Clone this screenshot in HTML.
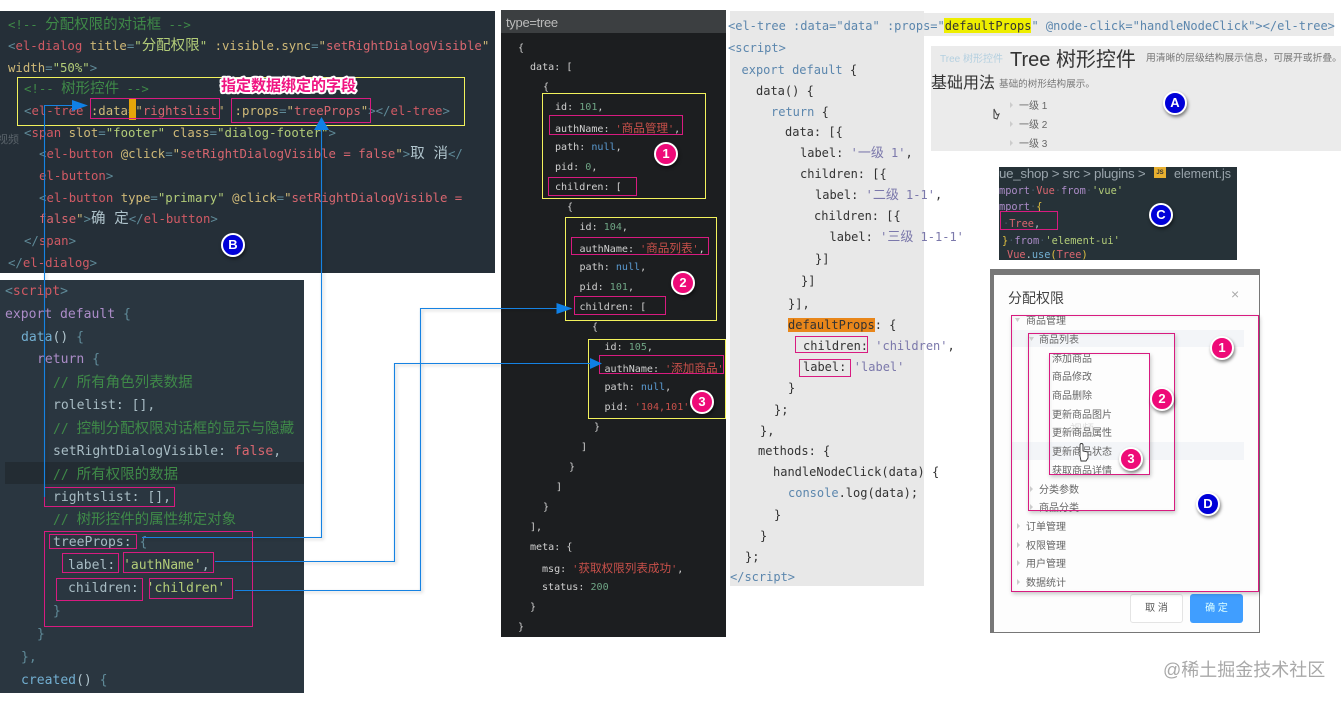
<!DOCTYPE html>
<html><head><meta charset="utf-8">
<style>
html,body{margin:0;padding:0;background:#fff}
#r{position:relative;width:1344px;height:701px;overflow:hidden;background:#fff;font-family:"DejaVu Sans Mono","Noto Sans CJK SC",monospace}
.p{position:absolute}
.l{position:absolute;line-height:20px;margin-top:-10px;white-space:pre}
.B .l{font-size:12.34px;color:#8fa8b0;margin-top:-9.5px}.B u{font-size:14.5px}
.S .l{font-size:13.07px;color:#a8bcc4;margin-top:-8px}.S u{font-size:14.5px}
.M .l{font-size:10.07px;color:#d0d0d0;margin-top:-8.5px}.M u{font-size:11.6px}
.R .l{font-size:12px;color:#333}.R u{font-size:13px}
.C .l{font-size:10.3px;color:#9ab;margin-top:-8px}
u{text-decoration:none}
.t{color:#d05a64}.a{color:#d0ba78}.s{color:#d8666f}.g{color:#b2cc78}.c{color:#3f8a48}.k{color:#ac8cc8}.b{color:#72aed0}.w{color:#b0c4cc}.n{color:#5f8a98}
.mg{color:#6fa585}.mb{color:#5a9ad0}.mr{color:#c8504a}
.ro{color:#7b78ab}.rb{color:#5b86ad}
.txt{position:absolute;white-space:pre;font-family:"Liberation Sans","Noto Sans CJK SC",sans-serif;line-height:20px;margin-top:-10px}
.bd{position:absolute;width:20px;height:20px;margin:-12px 0 0 -12px;border:2px solid #fff;border-radius:50%;color:#fff;font:bold 13px/20px "Liberation Sans",sans-serif;text-align:center;box-shadow:1px 2px 3px rgba(0,0,0,.5)}
.pk{background:#ee0a78}.bl{background:#0000d8}
.d{font-size:10px;color:#666;margin-top:-8.5px}
.bx{position:absolute;box-sizing:border-box;border:1px solid #d81b80;box-shadow:1px 2px 4px rgba(0,0,0,.22),inset 1px 1px 3px rgba(0,0,0,.05)}
</style></head><body>
<div id="r">

<!-- panel B -->
<div class="p" style="left:0;top:11px;width:495px;height:262px;background:#252f38"></div>
<div class="p B" style="left:0;top:0;width:495px;height:273px">
<div class="l" style="left:8px;top:24px"><span class="c">&lt;!-- <u>分配权限的对话框</u> --&gt;</span></div>
<div class="l" style="left:8px;top:45px"><span class="n">&lt;</span><span class="t">el-dialog</span> <span class="a">title</span><span class="n">=</span><span class="g">"<u>分配权限</u>"</span> <span class="a">:visible.sync</span><span class="n">=</span><span class="a">"</span><span class="s">setRightDialogVisible</span><span class="a">"</span></div>
<div class="l" style="left:8px;top:67px"><span class="a">width</span><span class="n">=</span><span class="g">"50%"</span><span class="n">&gt;</span></div>
<div class="l" style="left:24px;top:88px"><span class="c">&lt;!-- <u>树形控件</u> --&gt;</span></div>
<div class="l" style="left:24px;top:110px"><span class="n">&lt;</span><span class="t">el-tree</span> <span class="a">:data</span><span class="n">=</span><span class="a">"</span><span class="s">rightslist</span><span class="a">"</span><span class="a" style="margin-left:10px">:props</span><span class="n">=</span><span class="a">"</span><span class="s">treeProps</span><span class="a">"</span><span class="n">&gt;&lt;/</span><span class="t">el-tree</span><span class="n">&gt;</span></div>
<div class="l" style="left:24px;top:132px"><span class="n">&lt;</span><span class="t">span</span> <span class="a">slot</span><span class="n">=</span><span class="g">"footer"</span> <span class="a">class</span><span class="n">=</span><span class="g">"dialog-footer"</span><span class="n">&gt;</span></div>
<div class="l" style="left:39px;top:153px"><span class="n">&lt;</span><span class="t">el-button</span> <span class="a">@click</span><span class="n">=</span><span class="a">"</span><span class="s">setRightDialogVisible = false</span><span class="a">"</span><span class="n">&gt;</span><u class="w">取 消</u><span class="n">&lt;/</span></div>
<div class="l" style="left:39px;top:175px"><span class="t">el-button</span><span class="n">&gt;</span></div>
<div class="l" style="left:39px;top:197px"><span class="n">&lt;</span><span class="t">el-button</span> <span class="a">type</span><span class="n">=</span><span class="g">"primary"</span> <span class="a">@click</span><span class="n">=</span><span class="a">"</span><span class="s">setRightDialogVisible =</span></div>
<div class="l" style="left:39px;top:218px"><span class="s">false</span><span class="a">"</span><span class="n">&gt;</span><u class="w">确 定</u><span class="n">&lt;/</span><span class="t">el-button</span><span class="n">&gt;</span></div>
<div class="l" style="left:24px;top:240px"><span class="n">&lt;/</span><span class="t">span</span><span class="n">&gt;</span></div>
<div class="l" style="left:8px;top:262px"><span class="n">&lt;/</span><span class="t">el-dialog</span><span class="n">&gt;</span></div>
<div class="txt" style="left:-3px;top:140px;font-size:11px;color:#5a636a">视频</div>
</div>
<div class="p" style="left:129px;top:99px;width:7px;height:21px;background:#e5a50a"></div>

<!-- panel script -->
<div class="p" style="left:0;top:280px;width:304px;height:413px;background:#2a3640"></div>
<div class="p" style="left:5px;top:462px;width:299px;height:22px;background:#232c33"></div>
<div class="p S" style="left:0;top:0;width:304px;height:701px">
<div class="l" style="left:5px;top:290px"><span class="n">&lt;</span><span class="t">script</span><span class="n">&gt;</span></div>
<div class="l" style="left:5px;top:313px"><span class="k">export default</span> <span class="n">{</span></div>
<div class="l" style="left:21px;top:336px"><span class="b">data</span><span class="w">()</span> <span class="n">{</span></div>
<div class="l" style="left:37px;top:358px"><span class="k">return</span> <span class="n">{</span></div>
<div class="l" style="left:53px;top:381px"><span class="c">// <u>所有角色列表数据</u></span></div>
<div class="l" style="left:53px;top:404px">rolelist: [],</div>
<div class="l" style="left:53px;top:427px"><span class="c">// <u>控制分配权限对话框的显示与隐藏</u></span></div>
<div class="l" style="left:53px;top:450px">setRightDialogVisible: <span class="s">false</span>,</div>
<div class="l" style="left:53px;top:473px"><span class="c">// <u>所有权限的数据</u></span></div>
<div class="l" style="left:53px;top:496px">rightslist: [],</div>
<div class="l" style="left:53px;top:518px"><span class="c">// <u>树形控件的属性绑定对象</u></span></div>
<div class="l" style="left:53px;top:541px">treeProps: <span class="n">{</span></div>
<div class="l" style="left:68px;top:564px">label: <span class="g">'authName'</span>,</div>
<div class="l" style="left:68px;top:587px">children: <span class="g">'children'</span></div>
<div class="l" style="left:53px;top:610px"><span class="n">}</span></div>
<div class="l" style="left:37px;top:633px"><span class="n">}</span></div>
<div class="l" style="left:21px;top:656px"><span class="n">},</span></div>
<div class="l" style="left:21px;top:679px"><span class="b">created</span><span class="w">()</span> <span class="n">{</span></div>
</div>

<!-- middle panel -->
<div class="p" style="left:501px;top:10px;width:225px;height:627px;background:#1c1e20"></div>
<div class="p" style="left:501px;top:10px;width:225px;height:23px;background:#3c3f41"></div>
<div class="txt" style="left:506px;top:23px;font-size:13px;color:#bbb;letter-spacing:-.3px">type=tree</div>
<div class="p M" style="left:0;top:0;width:730px;height:640px">
<div class="l" style="left:518px;top:47px">{</div>
<div class="l" style="left:530px;top:66px">data: [</div>
<div class="l" style="left:543px;top:86px">{</div>
<div class="l" style="left:555px;top:106px">id: <span class="mg">101</span>,</div>
<div class="l" style="left:555px;top:126px">authName: <span class="mr">'<u>商品管理</u>'</span>,</div>
<div class="l" style="left:555px;top:146px">path: <span class="mb">null</span>,</div>
<div class="l" style="left:555px;top:166px">pid: <span class="mg">0</span>,</div>
<div class="l" style="left:555px;top:186px">children: [</div>
<div class="l" style="left:567px;top:206px">{</div>
<div class="l" style="left:579.5px;top:226px">id: <span class="mg">104</span>,</div>
<div class="l" style="left:579.5px;top:246px">authName: <span class="mr">'<u>商品列表</u>'</span>,</div>
<div class="l" style="left:579.5px;top:266px">path: <span class="mb">null</span>,</div>
<div class="l" style="left:579.5px;top:286px">pid: <span class="mg">101</span>,</div>
<div class="l" style="left:579.5px;top:306px">children: [</div>
<div class="l" style="left:592px;top:326px">{</div>
<div class="l" style="left:604.5px;top:346px">id: <span class="mg">105</span>,</div>
<div class="l" style="left:604.5px;top:366px">authName: <span class="mr">'<u>添加商品</u>'</span></div>
<div class="l" style="left:604.5px;top:386px">path: <span class="mb">null</span>,</div>
<div class="l" style="left:604.5px;top:406px">pid: <span class="mr">'104,101'</span></div>
<div class="l" style="left:594px;top:426px">}</div>
<div class="l" style="left:581px;top:446px">]</div>
<div class="l" style="left:569px;top:466px">}</div>
<div class="l" style="left:556px;top:486px">]</div>
<div class="l" style="left:543px;top:506px">}</div>
<div class="l" style="left:530px;top:526px">],</div>
<div class="l" style="left:530px;top:546px">meta: {</div>
<div class="l" style="left:542px;top:566px">msg: <span class="mr">'<u>获取权限列表成功</u>'</span>,</div>
<div class="l" style="left:542px;top:586px">status: <span class="mg">200</span></div>
<div class="l" style="left:530px;top:606px">}</div>
<div class="l" style="left:518px;top:626px">}</div>
</div>

<!-- right code -->
<div class="p" style="left:730px;top:11px;width:194px;height:575px;background:#e8e8e8"></div>
<div class="p" style="left:924px;top:13px;width:410px;height:23px;background:#eaeaea"></div>
<div class="p" style="left:944px;top:18px;width:87px;height:15px;background:#eeee00"></div>
<div class="p" style="left:788px;top:318px;width:87px;height:14px;background:#e8861a"></div>
<div class="p R" style="left:0;top:0;width:1344px;height:600px">
<div class="l" style="left:728px;top:26px"><span class="rb">&lt;el-tree :data="data" :props="</span>defaultProps<span class="rb">" @node-click="handleNodeClick"&gt;&lt;/el-tree&gt;</span></div>
<div class="l" style="left:728px;top:48px"><span class="rb">&lt;script&gt;</span></div>
<div class="l" style="left:741.5px;top:70px"><span class="rb">export default</span> {</div>
<div class="l" style="left:756px;top:91px">data() {</div>
<div class="l" style="left:771px;top:112px"><span class="rb">return</span> {</div>
<div class="l" style="left:785px;top:132px">data: [{</div>
<div class="l" style="left:800px;top:153px">label: <span class="ro">'<u>一级</u> 1'</span>,</div>
<div class="l" style="left:800px;top:174px">children: [{</div>
<div class="l" style="left:815px;top:195px">label: <span class="ro">'<u>二级</u> 1-1'</span>,</div>
<div class="l" style="left:814px;top:216px">children: [{</div>
<div class="l" style="left:829.5px;top:237px">label: <span class="ro">'<u>三级</u> 1-1-1'</span></div>
<div class="l" style="left:815px;top:259px">}]</div>
<div class="l" style="left:801px;top:281px">}]</div>
<div class="l" style="left:788px;top:304px">}],</div>
<div class="l" style="left:788px;top:325px">defaultProps: {</div>
<div class="l" style="left:803px;top:346px">children: <span class="ro">'children'</span>,</div>
<div class="l" style="left:803px;top:367px">label:  <span class="ro" style="margin-left:-7px">'label'</span></div>
<div class="l" style="left:788px;top:388px">}</div>
<div class="l" style="left:774px;top:410px">};</div>
<div class="l" style="left:760px;top:431px">},</div>
<div class="l" style="left:758px;top:451px">methods: {</div>
<div class="l" style="left:773px;top:472px">handleNodeClick(data) {</div>
<div class="l" style="left:788px;top:493px"><span class="rb">console</span>.log(data);</div>
<div class="l" style="left:774px;top:515px">}</div>
<div class="l" style="left:760px;top:536px">}</div>
<div class="l" style="left:745px;top:557px">};</div>
<div class="l" style="left:730px;top:577px"><span class="rb">&lt;/script&gt;</span></div>
</div>

<!-- A panel -->
<div class="p" style="left:931px;top:46px;width:410px;height:105px;background:#ebebeb"></div>
<div class="txt" style="left:940px;top:60px;font-size:10px;color:#b4d0e0">Tree 树形控件</div>
<div class="txt" style="left:1010px;top:60px;font-size:20px;color:#333">Tree 树形控件</div>
<div class="txt" style="left:1146px;top:59px;font-size:9.8px;color:#777">用清晰的层级结构展示信息，可展开或折叠。</div>
<div class="txt" style="left:931px;top:84px;font-size:16px;color:#333">基础用法</div>
<div class="txt" style="left:999px;top:85px;font-size:9.6px;color:#777">基础的树形结构展示。</div>
<div class="txt d" style="left:1019px;top:105px">一级 1</div>
<div class="txt d" style="left:1019px;top:124px">一级 2</div>
<div class="txt d" style="left:1019px;top:143px">一级 3</div>

<!-- C panel -->
<div class="p" style="left:999px;top:167px;width:238px;height:93px;background:#263238"></div>
<div class="txt" style="left:999px;top:174px;font-size:13.3px;color:#9aa5ac;letter-spacing:-.25px">ue_shop &gt; src &gt; plugins &gt;</div>
<div class="p" style="left:1154px;top:167px;width:12px;height:11px;background:#e8b030;color:#333;font:bold 6px/13px 'Liberation Sans',sans-serif;text-align:center">JS</div>
<div class="txt" style="left:1174px;top:174px;font-size:12.5px;color:#9aa5ac">element.js</div>
<div class="p C" style="left:0;top:0;width:1344px;height:270px">
<div class="l" style="left:999px;top:189px"><span class="k">mport</span><span style="color:#456">·</span><span class="s">Vue</span><span style="color:#456">·</span><span class="k">from</span><span style="color:#456">·</span><span class="g">'vue'</span></div>
<div class="l" style="left:999px;top:205px"><span class="k">mport</span><span style="color:#456">·</span><span style="color:#e0c040">{</span></div>
<div class="l" style="left:1003px;top:222px"><span style="color:#456">·</span><span class="s">Tree</span><span class="w">,</span></div>
<div class="l" style="left:1002px;top:239px"><span style="color:#e0c040">}</span><span style="color:#456">·</span><span class="k">from</span><span style="color:#456">·</span><span class="g">'element-ui'</span></div>
<div class="l" style="left:1007px;top:253px"><span class="s">Vue</span><span class="w">.</span><span class="b">use</span><span style="color:#e0c040">(</span><span class="s">Tree</span><span style="color:#e0c040">)</span></div>
</div>

<!-- D dialog -->
<div class="p" style="left:990px;top:269px;width:270px;height:364px;background:#777"></div>
<div class="p" style="left:994px;top:275px;width:265px;height:357px;background:#fdfdfd"></div>
<div class="p" style="left:1012px;top:330px;width:232px;height:17px;background:#f3f5f8"></div>
<div class="p" style="left:1012px;top:442px;width:232px;height:18px;background:#f3f5f8"></div>
<div class="txt" style="left:1008px;top:298px;font-size:14px;color:#444">分配权限</div>
<div class="txt" style="left:1231px;top:294px;font-size:14px;color:#aaa">×</div>
<div class="txt d" style="left:1026px;top:320px">商品管理</div>
<div class="txt d" style="left:1039px;top:339px">商品列表</div>
<div class="txt d" style="left:1052px;top:358px">添加商品</div>
<div class="txt d" style="left:1052px;top:376px">商品修改</div>
<div class="txt d" style="left:1052px;top:395px">商品删除</div>
<div class="txt d" style="left:1052px;top:414px">更新商品图片</div>
<div class="txt" style="left:1070px;top:429px;font-size:12px;color:#ddd">视频</div>
<div class="txt d" style="left:1052px;top:432px">更新商品属性</div>
<div class="txt d" style="left:1052px;top:451px">更新商品状态</div>
<div class="txt d" style="left:1052px;top:470px">获取商品详情</div>
<div class="txt d" style="left:1039px;top:489px">分类参数</div>
<div class="txt d" style="left:1039px;top:507px">商品分类</div>
<div class="txt d" style="left:1026px;top:526px">订单管理</div>
<div class="txt d" style="left:1026px;top:545px">权限管理</div>
<div class="txt d" style="left:1026px;top:563px">用户管理</div>
<div class="txt d" style="left:1026px;top:582px">数据统计</div>
<div class="p" style="left:1130px;top:594px;width:51px;height:27px;background:#fff;border:1px solid #e4e4e4;border-radius:3px;color:#555;font:10px/27px 'Liberation Sans','Noto Sans CJK SC',sans-serif;text-align:center">取 消</div>
<div class="p" style="left:1190px;top:594px;width:53px;height:29px;background:#409eff;border-radius:3px;color:#dff;font:10px/29px 'Liberation Sans','Noto Sans CJK SC',sans-serif;text-align:center">确 定</div>
<div class="bx" style="left:1011px;top:315px;width:248px;height:277px"></div>
<div class="bx" style="left:1028px;top:333px;width:147px;height:178px"></div>
<div class="bx" style="left:1049px;top:353px;width:101px;height:122px"></div>

<div class="txt" style="left:1163px;top:670px;font-size:18px;line-height:24px;margin-top:-12px;color:#a8a8a8">@稀土掘金技术社区</div>

<!-- overlays -->
<svg class="p" style="left:0;top:0" width="1344" height="701" viewBox="0 0 1344 701">
<defs><filter id="sh" x="-5%" y="-5%" width="110%" height="110%"><feDropShadow dx="1.5" dy="1.5" stdDeviation="1.5" flood-color="#000" flood-opacity=".25"/></filter></defs>
<!-- triangles -->
<g fill="#ccc">
<path d="M1010 102l3 3-3 3zM1010 121l3 3-3 3zM1010 140l3 3-3 3z"/>
<path d="M1015 318l5 0-2.500 4zM1029 337l5 0-2.500 4z"/>
<path d="M1030 486l3 3-3 3zM1030 504l3 3-3 3zM1017 523l3 3-3 3zM1017 542l3 3-3 3zM1017 560l3 3-3 3zM1017 579l3 3-3 3z"/>
</g>
<path d="M994 109l3 6 2-1 -2 5-3-1z" fill="none" stroke="#444" stroke-width="1"/>
<path d="M1080 456v-11a1.500 1.500 0 0 1 3 0v6l5 1v6l-2 3h-5z" fill="#fff" stroke="#333" stroke-width=".9"/>

<!-- yellow boxes -->
<g fill="none" stroke="#f2f25c" stroke-width="1">
<rect x="17.500" y="77.500" width="447" height="48"/>
<rect x="542.500" y="93.500" width="163" height="105"/>
<rect x="565.500" y="217.500" width="151" height="103"/>
<rect x="588.500" y="339.500" width="137" height="79"/>
</g>
<!-- pink boxes -->
<g fill="none" stroke="#d81b80" stroke-width="1">
<rect x="90.500" y="98.500" width="129" height="20"/>
<rect x="231.500" y="98.500" width="139" height="24"/>
<rect x="44.500" y="487.500" width="130" height="19"/>
<rect x="44.500" y="531.500" width="208" height="95"/>
<rect x="49.500" y="534.500" width="87" height="14"/>
<rect x="62.500" y="553.500" width="56" height="19"/>
<rect x="123.500" y="552.500" width="90" height="20"/>
<rect x="56.500" y="578.500" width="86" height="22"/>
<rect x="149.500" y="578.500" width="83" height="20"/>
<rect x="549.500" y="115.500" width="133" height="19"/>
<rect x="548.500" y="177.500" width="88" height="18"/>
<rect x="571.500" y="237.500" width="137" height="17"/>
<rect x="574.500" y="296.500" width="91" height="18"/>
<rect x="599.500" y="355.500" width="124" height="18"/>
<rect x="795.500" y="336.500" width="72" height="16"/>
<rect x="799.500" y="359.500" width="51" height="17"/>
<rect x="1000.500" y="211.500" width="57" height="18"/>
</g>
<!-- blue connectors -->
<g fill="none" stroke="#1282e2" stroke-width="1.100" filter="url(#sh)">
<polyline points="44.500,497 44.500,105.500 74,105.500"/>
<polyline points="142,537.500 321.500,537.500 321.500,128"/>
<polyline points="215,561.500 394.500,561.500 394.500,363.500 592,363.500"/>
<polyline points="235,590.500 420.500,590.500 420.500,308.500 558,308.500"/>
</g>
<g fill="#0f80e6">
<path d="M88 105.500L72 100V111z"/>
<path d="M321.500 117L314 130H329z"/>
<path d="M602 363.500L590 358V369z"/>
<path d="M572.500 308.500L556.500 303V314z"/>
</g>
<text x="221" y="90.500" font-family="Liberation Sans,Noto Sans CJK SC,sans-serif" font-size="15" font-weight="bold" fill="#f01482" stroke="#fff" stroke-width="4" paint-order="stroke" stroke-linejoin="round">指定数据绑定的字段</text>
</svg>

<!-- badges -->
<div class="bd bl" style="left:233px;top:245px">B</div>
<div class="bd pk" style="left:666px;top:154px">1</div>
<div class="bd pk" style="left:683px;top:283px">2</div>
<div class="bd pk" style="left:702px;top:402px">3</div>
<div class="bd bl" style="left:1175px;top:103px">A</div>
<div class="bd bl" style="left:1161px;top:215px">C</div>
<div class="bd pk" style="left:1222px;top:348px">1</div>
<div class="bd pk" style="left:1162px;top:399px">2</div>
<div class="bd pk" style="left:1131px;top:459px">3</div>
<div class="bd bl" style="left:1208px;top:504px">D</div>
</div>
</body></html>
